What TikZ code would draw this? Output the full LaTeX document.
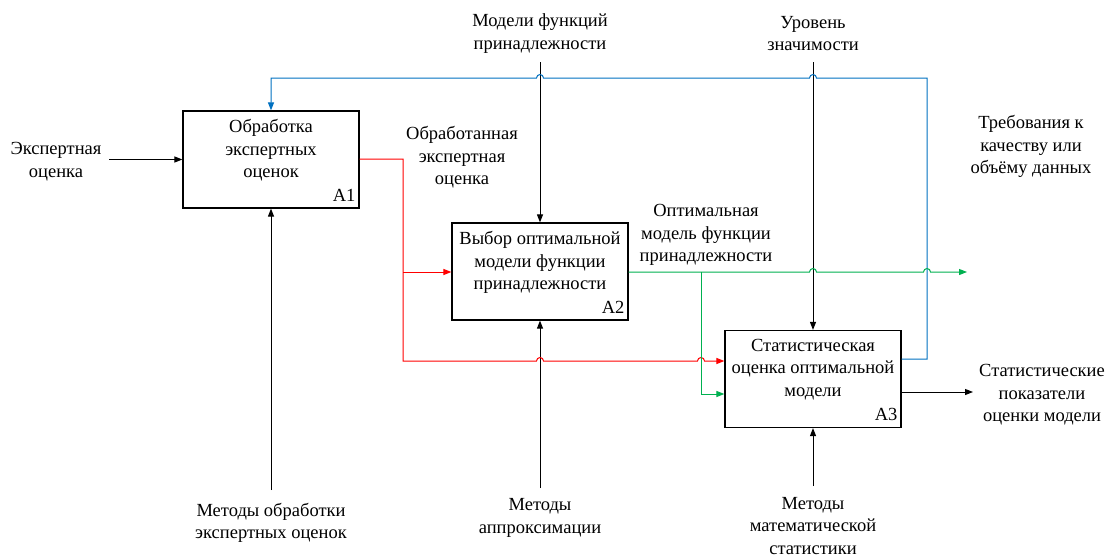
\documentclass[tikz,border=0pt]{standalone}
\usepackage{fontspec}
\setmainfont{Liberation Serif}
\usetikzlibrary{arrows.meta}

\definecolor{flowred}{RGB}{255,0,0}
\definecolor{flowgreen}{RGB}{0,176,80}
\definecolor{flowblue}{RGB}{0,112,192}

\tikzset{
  txt/.style={align=center, inner sep=0pt, font=\fontsize{18.5}{22.5}\selectfont},
  funcbox/.style={draw=black, line width=1.2pt, minimum width=176pt, minimum height=97pt, inner sep=0pt},
  boxnum/.style={anchor=south east, inner sep=0pt, font=\fontsize{18.5}{22.5}\selectfont},
  link/.style={line width=1pt, -{Triangle[length=8pt,width=6pt]}},
  rlink/.style={line width=1pt, {Triangle[length=8pt,width=6pt]}-},
  plain/.style={line width=1pt},
}

\begin{document}
\begin{tikzpicture}[x=1pt, y=-1pt]
\useasboundingbox (0,0) rectangle (1108,557);

% activity boxes
\node[funcbox] (A1) at (271,159.5) {};
\node[funcbox] (A2) at (540,271.5) {};
\node[funcbox] (A3) at (813,379) {};

\node[txt, anchor=north] (A1t) at ([yshift=-9pt]A1.north) {Обработка\\экспертных\\оценок};
\node[txt, anchor=north] (A2t) at ([yshift=-9pt]A2.north) {Выбор оптимальной\\модели функции\\принадлежности};
\node[txt, anchor=north] (A3t) at ([yshift=-9pt]A3.north) {Статистическая\\оценка оптимальной\\модели};

\node[boxnum] (A1n) at ([xshift=-4pt,yshift=7pt]A1.south east) {A1};
\node[boxnum] (A2n) at ([xshift=-4pt,yshift=7pt]A2.south east) {A2};
\node[boxnum] (A3n) at ([xshift=-4pt,yshift=7pt]A3.south east) {A3};

% external labels
\node[txt] (in1) at (56,161.5) {Экспертная\\оценка};
\node[txt] (c1) at (540,33.5) {Модели функций\\принадлежности};
\node[txt] (c2) at (813,33.5) {Уровень\\значимости};
\node[txt] (m1) at (271,523) {Методы обработки\\экспертных оценок};
\node[txt] (m2) at (540,518) {Методы\\аппроксимации};
\node[txt] (m3) at (813,526) {Методы\\математической\\статистики};
\node[txt] (o1) at (462,157.5) {Обработанная\\экспертная\\оценка};
\node[txt] (o2) at (706,235) {Оптимальная\\модель функции\\принадлежности};
\node[txt] (o3) at (1031,146.5) {Требования к\\качеству или\\объёму данных};
\node[txt] (o4) at (1042,395) {Статистические\\показатели\\оценки модели};

% arrow end points
\coordinate (inS) at (109,159.5);
\coordinate (c1S) at (540,62);
\coordinate (c2S) at (813,62);
\coordinate (m1S) at (271,490);
\coordinate (m2S) at (540,488);
\coordinate (m3S) at (813,486);
\coordinate (o2E) at (967,272);
\coordinate (o4E) at (973,392);

% input, controls, mechanisms
\draw[link] (inS) -- (A1.west);
\draw[link] (c1S) -- (A2.north);
\draw[link] (c2S) -- (A3.north);
\draw[link] (m1S) -- (A1.south);
\draw[link] (m2S) -- (A2.south);
\draw[link] (m3S) -- (A3.south);
\draw[link] (A3.east |- o4E) -- (o4E);

% feedback from A3 to A1
\draw[rlink, flowblue] (A1.north) -- (271,78) -- (536.5,78)
  arc[start angle=180, end angle=0, radius=3.5pt] -- (809.5,78)
  arc[start angle=180, end angle=0, radius=3.5pt] -- (927,78) -- (927,359) -- (A3.east |- 0,359);

% A1 output to A2 and A3
\draw[plain, flowred] (A1.east |- 0,159) -- (403,159) -- (403,361) -- (536.5,361)
  arc[start angle=180, end angle=0, radius=3.5pt] -- (697.5,361)
  arc[start angle=180, end angle=0, radius=3.5pt] -- (718,361);
\draw[link, flowred] (403,272) -- (A2.west |- 0,272);
\draw[link, flowred] (718,361) -- (A3.west |- 0,361);

% A2 output
\draw[link, flowgreen] (A2.east |- 0,272) -- (809.5,272)
  arc[start angle=180, end angle=0, radius=3.5pt] -- (923.5,272)
  arc[start angle=180, end angle=0, radius=3.5pt] -- (o2E);
\draw[link, flowgreen] (701,272) -- (701,394) -- (A3.west |- 0,394);

\end{tikzpicture}
\end{document}
